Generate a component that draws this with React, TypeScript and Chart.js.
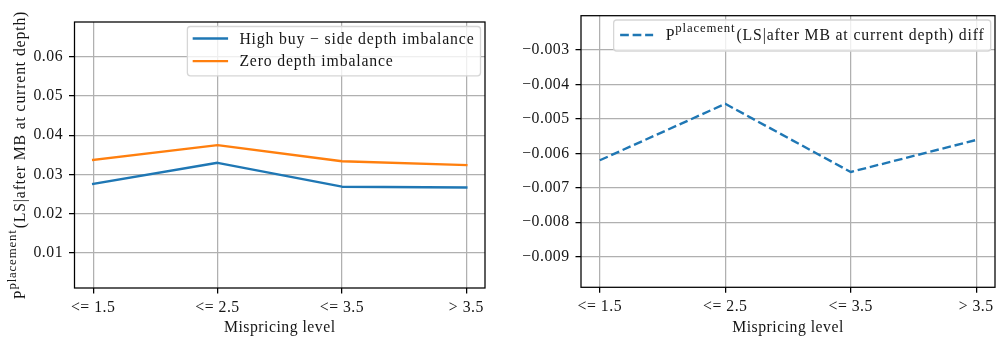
import React, { useEffect, useRef } from "react";
import { Chart, registerables } from "chart.js";

Chart.register(...registerables);

// ---------- data ----------
const categories = ["<= 1.5", "<= 2.5", "<= 3.5", "> 3.5"];
const highBuyImbalance = [0.0276, 0.033, 0.0269, 0.0267];
const zeroImbalance = [0.03375, 0.0375, 0.0334, 0.0324];
const placementDiff = [-0.0062, -0.00456, -0.00654, -0.00561];
const leftYTicks = [0.01, 0.02, 0.03, 0.04, 0.05, 0.06];
const rightYTicks = [-0.009, -0.008, -0.007, -0.006, -0.005, -0.004, -0.003];
const leftYRange = [0.00107, 0.0689];
const rightYRange = [-0.00989, -0.002];
const xTitle = "Mispricing level";
const highBuyLabel = "High buy \u2212 side depth imbalance";
const zeroLabel = "Zero depth imbalance";
const pMain = "P";
const pSup = "placement";
const pRest = "(LS|after MB at current depth)";
const diffSuffix = " diff";

// ---------- style ----------
const FAMILY = "'Liberation Serif', 'DejaVu Serif', serif";
const FS = 15.75;
const SUP_FS = 12.8;
const SUP_RAISE = 8.5;
const TEXT = "#161616";
const BLUE = "#1f77b4";
const ORANGE = "#ff7f0e";
const GRID = "#b0b0b0";
const AXIS_SPACING = "0.5px";
const TEXT_SPACING = "0.85px";

type Part = { text: string; sup?: boolean };

function fontFor(p: Part) {
  return `${p.sup ? SUP_FS : FS}px ${FAMILY}`;
}

function partsWidth(ctx: CanvasRenderingContext2D, parts: Part[]) {
  let w = 0;
  (ctx as any).letterSpacing = TEXT_SPACING;
  for (const p of parts) {
    ctx.font = fontFor(p);
    w += ctx.measureText(p.text).width + (p.sup ? 1 : 0);
  }
  return w;
}

function drawParts(ctx: CanvasRenderingContext2D, parts: Part[], x: number, baseline: number) {
  ctx.textAlign = "left";
  ctx.textBaseline = "alphabetic";
  ctx.fillStyle = TEXT;
  (ctx as any).letterSpacing = TEXT_SPACING;
  let cx = x;
  for (const p of parts) {
    ctx.font = fontFor(p);
    ctx.fillText(p.text, cx, p.sup ? baseline - SUP_RAISE : baseline);
    cx += ctx.measureText(p.text).width + (p.sup ? 1 : 0);
  }
}

function fmt(v: number, d: number) {
  const s = Math.abs(v).toFixed(d);
  return v < 0 ? "\u2212" + s : s;
}

type LegendItem = { parts: Part[]; color: string; dash: number[] };
type LegendCfg = {
  items: LegendItem[];
  margin: number;
  firstRow: number;
  rowGap: number;
  bottomPad: number;
};

function makeOverlayPlugin(legend: LegendCfg, yTitle: Part[] | null) {
  return {
    id: "overlay",
    beforeLayout(chart: any) {
      chart.ctx.letterSpacing = AXIS_SPACING;
    },
    beforeDraw(chart: any) {
      chart.ctx.letterSpacing = AXIS_SPACING;
    },
    afterDatasetsDraw(chart: any) {
      const { ctx, chartArea } = chart;
      const { left, right, top, bottom } = chartArea;
      ctx.save();
      // frame (spines)
      ctx.strokeStyle = "#000";
      ctx.lineWidth = 1.26;
      ctx.strokeRect(left, top, right - left, bottom - top);

      // legend box
      let tw = 0;
      for (const it of legend.items) tw = Math.max(tw, partsWidth(ctx, it.parts));
      const bx1 = right - legend.margin;
      const bx0 = bx1 - 6 - tw - 52;
      const by0 = top + legend.margin;
      const by1 =
        by0 + legend.firstRow + legend.rowGap * (legend.items.length - 1) + legend.bottomPad;
      ctx.beginPath();
      const r = 3;
      ctx.moveTo(bx0 + r, by0);
      ctx.arcTo(bx1, by0, bx1, by1, r);
      ctx.arcTo(bx1, by1, bx0, by1, r);
      ctx.arcTo(bx0, by1, bx0, by0, r);
      ctx.arcTo(bx0, by0, bx1, by0, r);
      ctx.closePath();
      ctx.fillStyle = "rgba(255,255,255,0.8)";
      ctx.fill();
      ctx.strokeStyle = "#d6d6d6";
      ctx.lineWidth = 1.3;
      ctx.stroke();

      legend.items.forEach((it, i) => {
        const cy = by0 + legend.firstRow + i * legend.rowGap;
        ctx.beginPath();
        ctx.setLineDash(it.dash);
        ctx.lineCap = it.dash.length ? "butt" : "square";
        ctx.strokeStyle = it.color;
        ctx.lineWidth = 2.4;
        ctx.moveTo(bx0 + 6.5, cy);
        ctx.lineTo(bx0 + 39.5, cy);
        ctx.stroke();
        ctx.setLineDash([]);
        drawParts(ctx, it.parts, bx0 + 52, cy + 5.2);
      });
      ctx.restore();

      if (yTitle) {
        ctx.save();
        const w = partsWidth(ctx, yTitle);
        ctx.translate(24.5, (top + bottom) / 2);
        ctx.rotate(-Math.PI / 2);
        drawParts(ctx, yTitle, -w / 2, 0);
        ctx.restore();
      }
      ctx.letterSpacing = AXIS_SPACING;
    },
  };
}

function buildChart(
  canvas: HTMLCanvasElement,
  datasets: any[],
  yTicks: number[],
  yRange: number[],
  decimals: number,
  pad: { right: number; top: number },
  yWidth: number,
  xHeight: number,
  legend: LegendCfg,
  yTitle: Part[] | null
) {
  const font = { family: FAMILY, size: FS };
  return new Chart(canvas, {
    type: "line",
    data: { datasets },
    options: {
      responsive: false,
      animation: false,
      layout: { padding: { left: 0, right: pad.right, top: pad.top, bottom: 0 } },
      plugins: { legend: { display: false }, tooltip: { enabled: false } },
      scales: {
        x: {
          type: "linear",
          min: -0.15,
          max: 3.15,
          afterBuildTicks: (s: any) => {
            s.ticks = categories.map((_, i) => ({ value: i }));
          },
          afterFit: (s: any) => {
            s.height = xHeight;
          },
          ticks: {
            autoSkip: false,
            maxRotation: 0,
            padding: 5,
            color: TEXT,
            font,
            callback: (v: any) => categories[Math.round(Number(v))] ?? "",
          },
          grid: {
            color: GRID,
            lineWidth: 1.26,
            drawTicks: true,
            tickLength: 5.5,
            tickColor: "#000",
            tickWidth: 1.26,
          },
          border: { display: false },
          title: {
            display: true,
            text: xTitle,
            color: TEXT,
            font,
            padding: { top: 0, bottom: 3 },
          },
        },
        y: {
          type: "linear",
          min: yRange[0],
          max: yRange[1],
          afterBuildTicks: (s: any) => {
            s.ticks = yTicks.map((v) => ({ value: v }));
          },
          afterFit: (s: any) => {
            s.width = yWidth;
          },
          ticks: {
            autoSkip: false,
            padding: 6,
            color: TEXT,
            font,
            callback: (v: any) => fmt(Number(v), decimals),
          },
          grid: {
            color: GRID,
            lineWidth: 1.26,
            drawTicks: true,
            tickLength: 5.5,
            tickColor: "#000",
            tickWidth: 1.26,
          },
          border: { display: false },
        },
      },
    },
    plugins: [makeOverlayPlugin(legend, yTitle) as any],
  } as any);
}

const toPoints = (arr: number[]) => arr.map((y, i) => ({ x: i, y }));

function Panel({ left, build }: { left: number; build: (c: HTMLCanvasElement) => Chart }) {
  const ref = useRef<HTMLCanvasElement>(null);
  useEffect(() => {
    const chart = build(ref.current as HTMLCanvasElement);
    return () => chart.destroy();
  }, []);
  return (
    <div style={{ position: "absolute", left, top: 0, width: 500, height: 340 }}>
      <canvas ref={ref} width={500} height={340} style={{ display: "block" }} />
    </div>
  );
}

const lineStyle = {
  pointRadius: 0,
  borderWidth: 2.36,
  tension: 0,
  fill: false,
  borderJoinStyle: "round",
};

export default function App() {
  const buildLeft = (c: HTMLCanvasElement) =>
    buildChart(
      c,
      [
        {
          ...lineStyle,
          label: highBuyLabel,
          data: toPoints(highBuyImbalance),
          borderColor: BLUE,
          borderCapStyle: "square",
        },
        {
          ...lineStyle,
          label: zeroLabel,
          data: toPoints(zeroImbalance),
          borderColor: ORANGE,
          borderCapStyle: "square",
        },
      ],
      leftYTicks,
      leftYRange,
      2,
      { right: 15, top: 22 },
      74.5,
      52,
      {
        items: [
          { parts: [{ text: highBuyLabel }], color: BLUE, dash: [] },
          { parts: [{ text: zeroLabel }], color: ORANGE, dash: [] },
        ],
        margin: 4.5,
        firstRow: 12,
        rowGap: 22.6,
        bottomPad: 14.7,
      },
      [{ text: pMain }, { text: pSup, sup: true }, { text: pRest }]
    );

  const buildRight = (c: HTMLCanvasElement) =>
    buildChart(
      c,
      [
        {
          ...lineStyle,
          label: pMain + pSup + pRest + diffSuffix,
          data: toPoints(placementDiff),
          borderColor: BLUE,
          borderDash: [8.7, 3.8],
          borderCapStyle: "butt",
        },
      ],
      rightYTicks,
      rightYRange,
      3,
      { right: 5, top: 15.7 },
      81,
      52.7,
      {
        items: [
          {
            parts: [{ text: pMain }, { text: pSup, sup: true }, { text: pRest + diffSuffix }],
            color: BLUE,
            dash: [8.7, 3.8],
          },
        ],
        margin: 4.3,
        firstRow: 15,
        rowGap: 22.6,
        bottomPad: 16,
      },
      null
    );

  return (
    <div style={{ position: "absolute", left: 0, top: 0, width: 1000, height: 340, background: "#fff" }}>
      <Panel left={0} build={buildLeft} />
      <Panel left={500} build={buildRight} />
    </div>
  );
}
